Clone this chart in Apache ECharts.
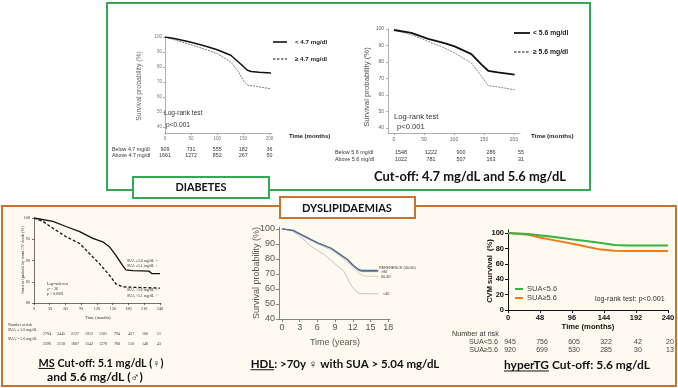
<!DOCTYPE html>
<html>
<head>
<meta charset="utf-8">
<script src="https://cdn.jsdelivr.net/npm/echarts@6.0.0/dist/echarts.min.js"></script>
<style>
html,body{margin:0;padding:0;background:#ffffff;}
#chart{width:678px;height:388px;}
</style>
</head>
<body>
<div id="chart"></div>
<script>
// ================= DATA =================
// Diabetes – cut-off 4.7 mg/dl (time in months, survival %)
const dm47BelowMonths = [0, 20, 48, 75, 100, 126, 145, 158, 165, 180, 203];
const dm47BelowSurv   = [100, 98.8, 96.7, 94.2, 91.5, 87.8, 82, 77.8, 77, 76.5, 76];
const dm47AboveMonths = [0, 20, 48, 75, 100, 126, 139, 152, 158, 175, 203];
const dm47AboveSurv   = [100, 98, 95, 92, 89, 83.3, 77.8, 70, 68, 67, 65.5];
const dm47RiskBelow   = [909, 731, 555, 182, 36];
const dm47RiskAbove   = [1661, 1272, 852, 267, 50];

// Diabetes – cut-off 5.6 mg/dl
const dm56Months    = [0, 29, 57, 84, 101, 129, 146, 157, 173, 201];
const dm56BelowSurv = [99.4, 97.6, 94, 91.5, 89.5, 84.8, 78.4, 74.7, 73.7, 72.3];
const dm56AboveSurv = [99.4, 96.6, 92.5, 88.5, 85.5, 79.4, 71.3, 65.7, 64.9, 63.2];
const dm56RiskBelow = [1548, 1222, 900, 286, 55];
const dm56RiskAbove = [1022, 781, 507, 163, 31];

const dmTimeTicks = [0, 50, 100, 150, 200];
const dmSurvTicks = [40, 50, 60, 70, 80, 90, 100];

// Metabolic syndrome
const msLowMonths  = [0, 36, 61, 87, 112, 131, 144, 156, 169, 175, 188, 219, 225, 240];
const msLowSurv    = [100, 99.2, 98, 96.8, 95.2, 94.4, 93.2, 91.2, 88.8, 87.8, 87.6, 87.5, 86.9, 86.9];
const msHighMonths = [0, 17, 36, 61, 87, 106, 125, 144, 156, 169, 188, 240];
const msHighSurv   = [100, 99.2, 97.6, 95.6, 94, 91.6, 89.2, 86.5, 84.5, 83.8, 83.7, 83.5];
const msRiskLow    = [2794, 2445, 2127, 1912, 1581, 794, 457, 160, 51];
const msRiskHigh   = [2596, 2118, 1807, 1542, 1278, 780, 510, 148, 43];
const msTimeTicks  = [0, 30, 60, 90, 120, 150, 180, 210, 240];
const msSurvTicks  = [80, 85, 90, 95, 100];

// HDL (time in years)
const hdlRefYears  = [0, 1.9, 3.3, 6.05, 8.3, 9.9, 11, 12.1, 12.9, 13.5, 16.3];
const hdlRefSurv   = [100, 99.1, 96.2, 90.7, 87.3, 82.9, 80, 75.6, 73.3, 72.4, 72.4];
const hdlGt80Surv  = [100, 99, 96, 90.5, 87, 82.5, 79.5, 75, 72.5, 71.6, 71.6];
const hdl6080Years = [0, 2, 3.3, 6, 8.3, 10, 11, 12.2, 13.2, 14, 16.3];
const hdl6080Surv  = [100, 98.8, 95.5, 90, 86, 81.5, 78, 73.5, 70, 68.6, 68.4];
const hdlLt40Years = [0, 1.5, 2.75, 4.95, 7.15, 8.8, 10.5, 11.8, 12.9, 13.5, 16.3];
const hdlLt40Surv  = [100, 99, 96.2, 88.4, 82.9, 77.3, 71.8, 61.8, 57.3, 56.9, 56.7];
const hdlYearTicks = [0, 3, 6, 9, 12, 15, 18];
const hdlSurvTicks = [40, 50, 60, 70, 80, 90, 100];

// Hypertriglyceridaemia
const tgMonths    = [0, 30, 50, 70, 95, 120, 140, 160, 180, 240];
const tgLowSurv   = [100, 98.8, 96.8, 94.8, 92, 89.5, 87, 84.5, 83.8, 83.8];
const tgHighSurv  = [100, 97.8, 94, 90.5, 86.5, 82, 78.5, 77, 76.8, 76.8];
const tgRiskLow   = [945, 756, 605, 322, 42, 20];
const tgRiskHigh  = [920, 699, 530, 285, 30, 13];
const tgTimeTicks = [0, 48, 96, 144, 192, 240];
const tgSurvTicks = [0, 20, 40, 60, 80, 100];

// ================= RENDER =================
const SANS = "'Liberation Sans', Arial, sans-serif";
const SERIF = "'Liberation Serif', 'Times New Roman', serif";
const HEAD = "Lato, 'Open Sans', sans-serif";
const GREEN = '#35a853', ORANGE = '#c8742f';

const pairs = (xs, ys) => xs.map((x, i) => [x, ys[i]]);
const mctx = document.createElement('canvas').getContext('2d');
function measure(text, size, family, weight) {
  mctx.font = (weight || 'normal') + ' ' + size + 'px ' + family;
  return mctx.measureText(text).width;
}
function fitSize(text, family, weight, target) {
  return 100 * target / measure(text, 100, family, weight);
}

function axX(gi, min, max, ticks, st) {
  return {
    gridIndex: gi, type: 'value', min: min, max: max,
    axisLine: { show: true, onZero: false, lineStyle: { color: st.line, width: st.lw || 1 } },
    axisTick: { show: true, length: st.tl || 2, customValues: ticks, lineStyle: { color: st.line, width: st.lw || 1 } },
    axisLabel: { customValues: ticks, fontSize: st.fs, color: st.color, fontFamily: st.ff, fontWeight: st.fw || 'normal', margin: st.margin || 3 },
    splitLine: { show: false }
  };
}
const axY = axX;

const st1 = { line: '#9a9a9a', lw: 0.8, tl: 2, fs: 4.5, color: '#777', ff: SANS, margin: 3 };
const st2 = { line: '#9a9a9a', lw: 0.8, tl: 2, fs: 5, color: '#666', ff: SANS, margin: 4 };
const stMS = { line: '#333', lw: 0.7, tl: 2, fs: 4.2, color: '#333', ff: SERIF, margin: 4 };
const stHDL = { line: '#777', lw: 0.9, tl: 3, fs: 9, color: '#555', ff: SANS, margin: 4 };
const stTG = { line: '#111', lw: 1, tl: 3, fs: 7.5, color: '#111', ff: SANS, fw: 'bold', margin: 4 };

const lineS = (xi, data, color, width, type) => ({
  type: 'line', xAxisIndex: xi, yAxisIndex: xi, data: data, showSymbol: false, symbol: 'none',
  lineStyle: { color: color, width: width, type: type || 'solid' }, silent: true, z: 3
});

const chart = echarts.init(document.getElementById('chart'));
chart.setOption({
  animation: false,
  backgroundColor: '#ffffff',
  grid: [
    { left: 165, top: 37, width: 107, height: 96 },
    { left: 388, top: 29, width: 132, height: 104 },
    { left: 34, top: 218, width: 127, height: 85 },
    { left: 279, top: 227, width: 111, height: 92 },
    { left: 508, top: 230, width: 160, height: 80 }
  ],
  xAxis: [
    axX(0, 0, 205, dmTimeTicks, st1),
    axX(1, -10, 210, dmTimeTicks, st2),
    axX(2, 0, 242, msTimeTicks, stMS),
    axX(3, -0.5, 18.3, hdlYearTicks, stHDL),
    axX(4, 0, 240, tgTimeTicks, stTG)
  ],
  yAxis: [
    axY(0, 36, 100, dmSurvTicks, st1),
    axY(1, 37, 100, dmSurvTicks, st2),
    axY(2, 80, 100, msSurvTicks, stMS),
    axY(3, 40, 101.3, hdlSurvTicks, stHDL),
    axY(4, 0, 104, tgSurvTicks, stTG)
  ],
  series: [
    lineS(0, pairs(dm47AboveMonths, dm47AboveSurv), '#6a6a6a', 0.9, [2, 1]),
    lineS(0, pairs(dm47BelowMonths, dm47BelowSurv), '#111', 1.5),
    lineS(1, pairs(dm56Months, dm56AboveSurv), '#888', 1, [2, 1]),
    lineS(1, pairs(dm56Months, dm56BelowSurv), '#111', 1.8),
    lineS(2, pairs(msLowMonths, msLowSurv), '#111', 1.3),
    lineS(2, pairs(msHighMonths, msHighSurv), '#111', 1.3, [3, 2]),
    lineS(3, pairs(hdlLt40Years, hdlLt40Surv), '#b4b4b4', 0.8),
    lineS(3, pairs(hdl6080Years, hdl6080Surv), '#cdc6a8', 0.8),
    lineS(3, pairs(hdlRefYears, hdlGt80Surv), '#666', 0.8),
    lineS(3, pairs(hdlRefYears, hdlRefSurv), '#4a6aa8', 1.3),
    lineS(4, pairs(tgMonths, tgHighSurv), '#f07d1a', 2),
    lineS(4, pairs(tgMonths, tgLowSurv), '#3cb043', 2)
  ]
});

// ---------- annotations ----------
const G = [];
function T(x, y, text, size, o) {
  o = o || {};
  G.push({
    type: 'text', x: x, y: y, rotation: o.rot || 0, z: o.z || 20,
    style: {
      text: text, fontSize: size, fontFamily: o.ff || SANS, fontWeight: o.fw || 'normal',
      fill: o.color || '#222', align: o.align || 'left', verticalAlign: 'middle',
      textAlign: o.align || 'left', textVerticalAlign: 'middle'
    }
  });
}
function L(x1, y1, x2, y2, color, w, dash, z) {
  G.push({ type: 'line', z: z || 20, shape: { x1: x1, y1: y1, x2: x2, y2: y2 },
    style: { stroke: color, lineWidth: w, lineDash: dash || null } });
}
function R(x, y, w, h, fill, stroke, lw, z) {
  G.push({ type: 'rect', z: z, shape: { x: x, y: y, width: w, height: h },
    style: { fill: fill, stroke: stroke, lineWidth: lw } });
}

// frames
R(2, 206, 674, 180, '#fefaf0', ORANGE, 2, -5);
R(107, 3, 483, 187, 'rgba(0,0,0,0)', GREEN, 2, -4);
R(133, 177, 136, 21, '#ffffff', GREEN, 2, 15);
R(280, 197, 135, 21, '#ffffff', ORANGE, 2, 15);

function headText(cx, y, text, target, ul) {
  const fs = fitSize(text, HEAD, 'bold', target);
  T(cx, y, text, fs, { ff: HEAD, fw: 'bold', align: 'center', color: '#111', z: 25 });
  if (ul) {
    const left = cx - target / 2;
    const uw = measure(ul, fs, HEAD, 'bold');
    L(left, y + fs * 0.5, left + uw, y + fs * 0.5, '#111', 1, null, 25);
  }
}
headText(201, 188, 'DIABETES', 51);
headText(347, 208, 'DYSLIPIDAEMIAS', 90);
headText(470, 177, 'Cut-off: 4.7 mg/dL and 5.6 mg/dL', 192);
headText(101, 363, 'MS Cut-off: 5.1 mg/dL (\u2640)', 125, 'MS');
headText(95, 377, 'and 5.6 mg/dL (\u2642)', 96);
headText(345, 364, 'HDL: >70y \u2640 with SUA > 5.04 mg/dL', 189, 'HDL');
headText(577, 365, 'hyperTG Cut-off: 5.6 mg/dL', 146, 'hyperTG');

// chart 1 (diabetes 4.7)
T(139, 86, 'Survival probability (%)', 6.8, { rot: Math.PI / 2, align: 'center', color: '#666' });
L(273, 42, 287, 42, '#111', 1.6);
L(273, 59, 287, 59, '#111', 1.2, [2.5, 1.5]);
T(295, 42, '< 4.7 mg/dl', 6.2, { fw: 'bold', color: '#222' });
T(295, 59, '\u2265 4.7 mg/dl', 6.2, { fw: 'bold', color: '#222' });
T(164, 113, 'Log-rank test', 6.6, { color: '#333' });
T(166, 125, 'p<0.001', 6.6, { color: '#333' });
T(289, 136, 'Time (months)', 6, { fw: 'bold', color: '#222' });
T(112, 150, 'Below 4.7 mg/dl', 5.3, { color: '#333' });
T(112, 156, 'Above 4.7 mg/dl', 5.3, { color: '#333' });
dmTimeTicks.forEach((t, i) => {
  const x = chart.convertToPixel({ xAxisIndex: 0 }, t);
  T(x, 150, String(dm47RiskBelow[i]), 5.3, { align: 'center', color: '#333' });
  T(x, 156, String(dm47RiskAbove[i]), 5.3, { align: 'center', color: '#333' });
});

// chart 2 (diabetes 5.6)
T(367, 87, 'Survival probability (%)', 7.8, { rot: Math.PI / 2, align: 'center', color: '#555' });
L(514, 33, 530, 33, '#111', 1.8);
L(514, 52, 530, 52, '#111', 1.2, [2.5, 1.5]);
T(533, 33, '< 5.6 mg/dl', 6.8, { fw: 'bold', color: '#222' });
T(533, 52, '\u2265 5.6 mg/dl', 6.8, { fw: 'bold', color: '#222' });
T(394, 117, 'Log-rank test', 7.6, { color: '#333' });
T(397, 127, 'p<0.001', 7.6, { color: '#333' });
T(531, 136, 'Time (months)', 6.2, { fw: 'bold', color: '#222' });
T(335, 153, 'Below 5.6 mg/dl', 5.4, { color: '#333' });
T(335, 160, 'Above 5.6 mg/dl', 5.4, { color: '#333' });
dmTimeTicks.forEach((t, i) => {
  const x = chart.convertToPixel({ xAxisIndex: 1 }, t) + 7;
  T(x, 153, String(dm56RiskBelow[i]), 5.4, { align: 'center', color: '#333' });
  T(x, 160, String(dm56RiskAbove[i]), 5.4, { align: 'center', color: '#333' });
});

// MS chart
T(23, 260, 'Survival probability from CV death (%)', 4.2, { rot: Math.PI / 2, align: 'center', ff: SERIF, color: '#333' });
T(98, 318, 'Time (months)', 4.3, { align: 'center', ff: SERIF, color: '#333' });
T(127, 261, 'SUA \u22645.6 mg/dL \u2642', 3.9, { ff: SERIF, color: '#333' });
T(127, 266, 'SUA \u22645.1 mg/dL \u2640', 3.9, { ff: SERIF, color: '#333' });
T(127, 290, 'SUA >5.6 mg/dL \u2642', 3.9, { ff: SERIF, color: '#333' });
T(127, 296, 'SUA >5.1 mg/dL \u2640', 3.9, { ff: SERIF, color: '#333' });
T(47, 284, 'Log-rank test', 3.9, { ff: SERIF, color: '#333' });
T(47, 289, '\u03c7\u00b2 = 36', 3.9, { ff: SERIF, color: '#333' });
T(47, 294, 'p < 0.0001', 3.9, { ff: SERIF, color: '#333' });
T(8, 325, 'Number at risk', 4, { ff: SERIF, color: '#333' });
T(8, 330, 'SUA \u2264 5.6 mg/dL', 4, { ff: SERIF, color: '#333' });
T(8, 339, 'SUA > 5.6 mg/dL', 4, { ff: SERIF, color: '#333' });
msRiskLow.forEach((v, i) => {
  const x = 47 + i * 14;
  T(x, 334, String(v), 4, { align: 'center', ff: SERIF, color: '#333' });
  T(x, 344, String(msRiskHigh[i]), 4, { align: 'center', ff: SERIF, color: '#333' });
});

// HDL chart
T(257, 273, 'Survival probability (%)', 9, { rot: Math.PI / 2, align: 'center', color: '#555' });
T(335, 343, 'Time (years)', 9, { align: 'center', color: '#555' });
T(379, 268, 'REFERENCE (40-60)', 3.8, { color: '#444' });
T(381, 272, '>80', 3.8, { color: '#444' });
T(381, 277, '60-80', 3.8, { color: '#444' });
T(383, 294, '<40', 3.8, { color: '#444' });

// hyperTG chart
T(490, 271, 'CVM survival  (%)', 7.6, { rot: Math.PI / 2, align: 'center', fw: 'bold', color: '#111' });
T(588, 327, 'Time (months)', 7.7, { align: 'center', fw: 'bold', color: '#111' });
L(515, 289, 523, 289, '#3cb043', 2);
L(515, 298, 523, 298, '#f07d1a', 2);
T(527, 289, 'SUA<5.6', 7.5, { color: '#444' });
T(527, 298, 'SUA\u22655.6', 7.5, { color: '#444' });
T(595, 299, 'log-rank test: p<0.001', 7.2, { color: '#333' });
T(452, 334, 'Number at risk', 7.2, { color: '#333' });
T(498, 342, 'SUA<5.6', 7.2, { align: 'right', color: '#444' });
T(498, 350, 'SUA\u22655.6', 7.2, { align: 'right', color: '#444' });
tgTimeTicks.forEach((t, i) => {
  const x = chart.convertToPixel({ xAxisIndex: 4 }, t);
  T(x + 2, 342, String(tgRiskLow[i]), 7, { align: 'center', color: '#444' });
  T(x + 2, 350, String(tgRiskHigh[i]), 7, { align: 'center', color: '#444' });
});

chart.setOption({ graphic: { elements: G } });
</script>
</body>
</html>
